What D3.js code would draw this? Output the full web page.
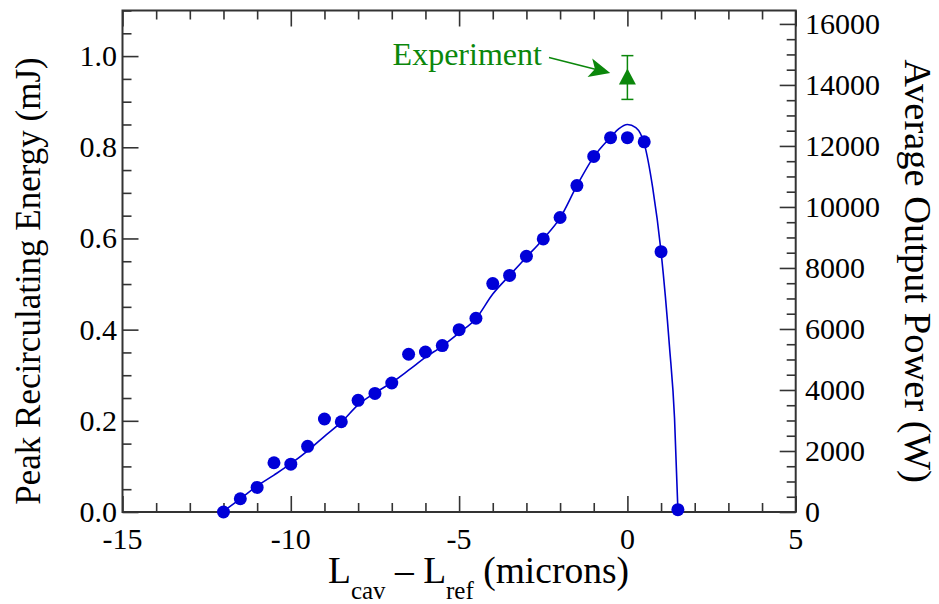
<!DOCTYPE html>
<html>
<head>
<meta charset="utf-8">
<script src="https://cdn.jsdelivr.net/npm/d3@7"></script>
<style>
  html, body { margin: 0; padding: 0; background: #fff; }
  svg { display: block; font-family: "Liberation Serif", "Times New Roman", serif; }
</style>
</head>
<body>
<svg id="chart" width="939" height="604"></svg>
<script>
// Measured cavity detuning (microns) and peak recirculating energy (mJ)
const detuning = [-12, -11.5, -11, -10.5, -10, -9.5, -9, -8.5, -8, -7.5, -7, -6.5, -6, -5.5,
                  -5, -4.5, -4, -3.5, -3, -2.5, -2, -1.5, -1, -0.5, 0, 0.5, 1, 1.5];
const energy = [0.000, 0.029, 0.054, 0.108, 0.105, 0.144, 0.204, 0.198, 0.245, 0.260, 0.283, 0.346, 0.351, 0.365,
                0.400, 0.425, 0.501, 0.519, 0.561, 0.599, 0.646, 0.716, 0.780, 0.821, 0.821, 0.812, 0.571, 0.005];

// Smooth fit through the simulated points
const fitX = [-12, -11.5, -11, -10.5, -10, -9.5, -9, -8.5, -8, -7.5, -7, -6.5, -6, -5.5, -5, -4.5,
              -4, -3.5, -3, -2.5, -2, -1.5, -1, -0.5, -0.25, 0, 0.25, 0.5, 0.75, 1.0, 1.25, 1.4, 1.5];
const fitY = [0.002, 0.029, 0.057, 0.081, 0.106, 0.134, 0.166, 0.197, 0.235, 0.261, 0.284, 0.311, 0.339, 0.364, 0.393, 0.424,
              0.478, 0.519, 0.559, 0.599, 0.645, 0.716, 0.779, 0.822, 0.841, 0.850, 0.843, 0.808, 0.712, 0.571, 0.363, 0.206, 0.005];

// Experimental measurement with error bar
const expX = [0];
const expY = [0.953];
const expErr = [0.048];

// Axis tick labels
const xTicks = [-15, -10, -5, 0, 5];
const yLeftTicks = [0.0, 0.2, 0.4, 0.6, 0.8, 1.0];
const yRightTicks = [0, 2000, 4000, 6000, 8000, 10000, 12000, 14000, 16000];

const svg = d3.select("#chart");
const L = 122.5, R = 795.7, T = 10.5, B = 512;

const x = d3.scaleLinear().domain([-15, 5]).range([L, R]);
const y = d3.scaleLinear().domain([0, 1.1]).range([B, T]);
const yR = d3.scaleLinear().domain([0, 16440]).range([B, T]);

const axisColor = "#333";
const majorLen = 16, minorLen = 9;
const minorX = d3.range(-15, 5.001, 1).filter(v => Math.abs(v % 5) > 1e-9);
const minorYL = d3.range(0, 1.1001, 0.05).filter(v => Math.abs(Math.round(v / 0.2) * 0.2 - v) > 1e-6);
const minorYR = d3.range(0, 16001, 500).filter(v => v % 2000 !== 0);

// Inward ticks on all four sides
function tickGroup(axis, values, size, inner) {
  const g = svg.append("g").attr("transform", inner).call(axis.tickValues(values).tickSize(size).tickFormat(""));
  g.select(".domain").remove();
  g.selectAll(".tick line").attr("stroke", axisColor).attr("stroke-width", 1.6);
  return g;
}
tickGroup(d3.axisTop(x), xTicks, majorLen, `translate(0,${B})`);
tickGroup(d3.axisTop(x), minorX, minorLen, `translate(0,${B})`);
tickGroup(d3.axisBottom(x), xTicks, majorLen, `translate(0,${T})`);
tickGroup(d3.axisBottom(x), minorX, minorLen, `translate(0,${T})`);
tickGroup(d3.axisRight(y), yLeftTicks, majorLen, `translate(${L},0)`);
tickGroup(d3.axisRight(y), minorYL, minorLen, `translate(${L},0)`);
tickGroup(d3.axisLeft(yR), yRightTicks, majorLen, `translate(${R},0)`);
tickGroup(d3.axisLeft(yR), minorYR, minorLen, `translate(${R},0)`);

// Frame
svg.append("rect").attr("x", L).attr("y", T).attr("width", R - L).attr("height", B - T)
  .attr("fill", "none").attr("stroke", axisColor).attr("stroke-width", 2);

// Tick labels
const tickFont = 30;
svg.append("g").selectAll("text").data(xTicks).join("text")
  .attr("x", d => x(d)).attr("y", 549).attr("text-anchor", "middle")
  .attr("font-size", tickFont).attr("fill", "#000").text(d => String(d));
svg.append("g").selectAll("text").data(yLeftTicks).join("text")
  .attr("x", 117).attr("y", d => y(d) + 10).attr("text-anchor", "end")
  .attr("font-size", tickFont).attr("fill", "#000").text(d => d.toFixed(1));
svg.append("g").selectAll("text").data(yRightTicks).join("text")
  .attr("x", 805).attr("y", d => yR(d) + 10).attr("text-anchor", "start")
  .attr("font-size", tickFont).attr("fill", "#000").text(d => String(d));

// Axis titles
svg.append("text").attr("transform", "translate(40,281) rotate(-90)")
  .attr("text-anchor", "middle").attr("font-size", 35).attr("fill", "#000")
  .text("Peak Recirculating Energy (mJ)");
svg.append("text").attr("transform", "translate(905,271) rotate(90)")
  .attr("text-anchor", "middle").attr("font-size", 38.5).attr("fill", "#000")
  .text("Average Output Power (W)");
const xt = svg.append("text").attr("x", 328).attr("y", 583).attr("font-size", 37.5).attr("fill", "#000");
xt.append("tspan").text("L");
xt.append("tspan").attr("font-size", 25).attr("dy", 16).text("cav");
xt.append("tspan").attr("dy", -16).text(" \u2013 L");
xt.append("tspan").attr("font-size", 25).attr("dy", 16).text("ref");
xt.append("tspan").attr("dy", -16).text(" (microns)");

// Fit curve
const line = d3.line().x((d, i) => x(fitX[i])).y(d => y(d)).curve(d3.curveMonotoneX);
svg.append("path").datum(fitY).attr("d", line)
  .attr("fill", "none").attr("stroke", "#0000cc").attr("stroke-width", 1.6);

// Simulated points
svg.append("g").selectAll("circle").data(energy).join("circle")
  .attr("cx", (d, i) => x(detuning[i])).attr("cy", d => y(d)).attr("r", 6.5)
  .attr("fill", "#0000d8");

// Experimental point, error bar and triangle marker
const green = "#0b870b";
const eg = svg.append("g");
expY.forEach((v, i) => {
  const cx = x(expX[i]);
  eg.append("line").attr("x1", cx).attr("x2", cx).attr("y1", y(v + expErr[i])).attr("y2", y(v - expErr[i]))
    .attr("stroke", green).attr("stroke-width", 1.5);
  [v + expErr[i], v - expErr[i]].forEach(e => {
    eg.append("line").attr("x1", cx - 6).attr("x2", cx + 6).attr("y1", y(e)).attr("y2", y(e))
      .attr("stroke", green).attr("stroke-width", 1.5);
  });
  const cy = y(v);
  eg.append("path").attr("d", `M${cx},${cy - 9}L${cx + 8.5},${cy + 7}L${cx - 8.5},${cy + 7}Z`).attr("fill", green);
});

// Annotation
svg.append("text").attr("x", x(-2.54)).attr("y", y(0.98)).attr("text-anchor", "end")
  .attr("font-size", 32).attr("fill", green).text("Experiment");
const a0 = [x(-2.33), y(0.997)], a1 = [x(-0.51), y(0.963)];
svg.append("line").attr("x1", a0[0]).attr("y1", a0[1]).attr("x2", a1[0] - 10).attr("y2", a1[1] - 2.5)
  .attr("stroke", green).attr("stroke-width", 1.5);
{
  const dx = a1[0] - a0[0], dy = a1[1] - a0[1], len = Math.hypot(dx, dy);
  const ux = dx / len, uy = dy / len, px = -uy, py = ux;
  const hl = 21, hw = 9.5;
  const bx = a1[0] - ux * hl, by = a1[1] - uy * hl;
  const nx = a1[0] - ux * hl * 0.75, ny = a1[1] - uy * hl * 0.75;
  svg.append("path")
    .attr("d", `M${a1[0]},${a1[1]}L${bx + px * hw},${by + py * hw}L${nx},${ny}L${bx - px * hw},${by - py * hw}Z`)
    .attr("fill", green);
}
</script>
</body>
</html>
